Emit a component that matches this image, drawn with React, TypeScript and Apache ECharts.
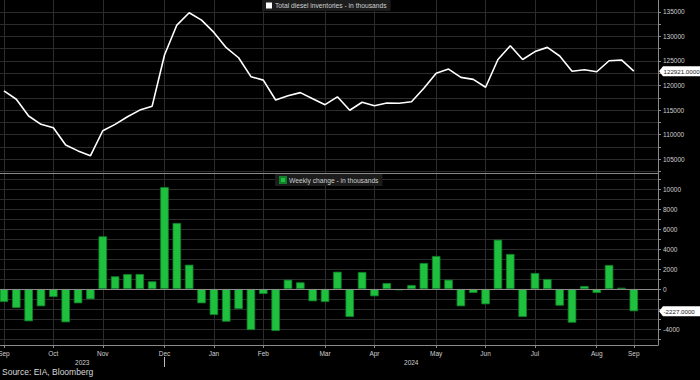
import React, { useEffect, useRef } from 'react';
import * as echarts from 'echarts';

const levelName = 'Total diesel inventories - in thousands';
const changeName = 'Weekly change - in thousands';
const sourceText = 'Source: EIA, Bloomberg';

// Weekly total diesel inventories (thousand barrels), Sep 2023 - Sep 2024
const levels = [
  118900, 117200, 113800, 112100, 111400, 107900, 106700, 105700, 110800, 112100,
  113650, 115000, 115800, 126200, 132300, 134800, 133300, 130800, 127700, 125650,
  121800, 121100, 117050, 117900, 118550, 117300, 116100, 117700, 114960, 116600,
  115900, 116450, 116400, 116700, 119430, 122480, 123350, 121650, 121250, 119640,
  125300, 128100, 125300, 126900, 127760, 126000, 122900, 123200, 122800, 125040,
  125200, 122921,
];

// Weekly change (thousand barrels)
const changes = [
  -1300, -1900, -3230, -1730, -800, -3330, -1430, -1030, 5270, 1270,
  1500, 1500, 770, 10200, 6600, 2430, -1430, -2600, -3270, -2000,
  -4100, -500, -4200, 930, 670, -1230, -1300, 1730, -2800, 1700,
  -730, 600, -130, 400, 2600, 3300, 930, -1730, -400, -1530,
  4930, 3500, -2800, 1600, 1000, -1670, -3370, 300, -400, 2400,
  130, -2227,
];

const monthTickIdx = [0, 4, 8, 13, 17, 21, 26, 30, 35, 39, 43, 48, 51];
const monthTickText = ['Sep', 'Oct', 'Nov', 'Dec', 'Jan', 'Feb', 'Mar', 'Apr', 'May', 'Jun', 'Jul', 'Aug', 'Sep'];
const yearText = ['2023', '2024'];
const yearBreakIdx = 13;

const levelLabelValues = [105000, 110000, 115000, 120000, 125000, 130000, 135000];
const levelTickValues = [102500, 105000, 107500, 110000, 112500, 115000, 117500, 120000, 122500, 125000, 127500, 130000, 132500, 135000];
const changeLabelValues = [-4000, 0, 2000, 4000, 6000, 8000, 10000];
const changeTickValues = [-5000, -4000, -3000, -2000, -1000, 0, 1000, 2000, 3000, 4000, 5000, 6000, 7000, 8000, 9000, 10000, 11000];

const FONT = '"Liberation Sans", Arial, sans-serif';
const X_MIN = -0.32;
const X_MAX = 52.96;

export default function App() {
  const ref = useRef<HTMLDivElement>(null);

  useEffect(() => {
    document.body.style.margin = '0';
    document.body.style.background = '#000';
    if (!ref.current) return;
    const chart = echarts.init(ref.current, undefined, { renderer: 'svg' });

    const gridLine = { show: true, lineStyle: { color: '#2c2c2c', width: 1 } };
    const axisLineStyle = { color: '#8a8a8a', width: 1 };
    const plainNum = (v: number) => String(v);

    const xCommon = {
      type: 'value' as const,
      min: X_MIN,
      max: X_MAX,
      splitLine: gridLine,
      axisTick: { show: true, customValues: monthTickIdx, length: 3, lineStyle: axisLineStyle },
    };

    const yCommon = {
      type: 'value' as const,
      position: 'right' as const,
      scale: true,
      axisLine: { show: true, onZero: false, lineStyle: axisLineStyle },
      splitLine: gridLine,
    };

    chart.setOption({
      animation: false,
      backgroundColor: '#000',
      textStyle: { fontFamily: FONT },
      title: {
        text: sourceText,
        left: 2,
        top: 367,
        padding: 0,
        textStyle: { color: '#d8d8d8', fontSize: 8.5, fontWeight: 'normal', fontFamily: FONT },
      },
      legend: [
        {
          data: [levelName],
          left: 262,
          top: 0,
          padding: [2, 4, 2, 4],
          backgroundColor: '#1c1c1c',
          icon: 'rect',
          itemWidth: 6,
          itemHeight: 6,
          textStyle: { color: '#cfcfcf', fontSize: 6.7, fontFamily: FONT, padding: [0, 0, 0, -2] },
        },
        {
          data: [changeName],
          left: 275,
          top: 174,
          padding: [2, 4, 2, 4],
          backgroundColor: '#1c1c1c',
          icon: 'rect',
          itemWidth: 6,
          itemHeight: 6,
          textStyle: { color: '#cfcfcf', fontSize: 6.7, fontFamily: FONT, padding: [0, 0, 0, -2] },
        },
      ],
      grid: [
        { left: 0, right: 42, top: 0, height: 173, outerBoundsMode: 'none', containLabel: false },
        { left: 0, right: 42, top: 173, bottom: 35, outerBoundsMode: 'none', containLabel: false },
      ],
      xAxis: [
        {
          ...xCommon,
          gridIndex: 0,
          axisLine: { show: true, onZero: false, lineStyle: axisLineStyle },
          axisTick: { show: false, customValues: monthTickIdx },
          axisLabel: { show: false },
        },
        {
          ...xCommon,
          gridIndex: 1,
          axisLine: { show: true, onZero: false, lineStyle: axisLineStyle },
          axisLabel: {
            show: true,
            customValues: monthTickIdx,
            color: '#cfcfcf',
            fontSize: 6.5,
            margin: 5,
            fontFamily: FONT,
            formatter: (v: number) => {
              const k = monthTickIdx.indexOf(Math.round(v));
              return k >= 0 ? monthTickText[k] : '';
            },
          },
        },
      ],
      yAxis: [
        {
          ...yCommon,
          gridIndex: 0,
          min: 102200,
          max: 137400,
          axisTick: { show: true, customValues: levelTickValues, length: 3, lineStyle: axisLineStyle },
          axisLabel: { customValues: levelLabelValues, color: '#cfcfcf', fontSize: 6.5, margin: 5, fontFamily: FONT, formatter: plainNum },
        },
        {
          ...yCommon,
          gridIndex: 1,
          min: -5600,
          max: 11600,
          axisTick: { show: true, customValues: changeTickValues, length: 3, lineStyle: axisLineStyle },
          axisLabel: { customValues: changeLabelValues, color: '#cfcfcf', fontSize: 6.5, margin: 5, fontFamily: FONT, formatter: plainNum },
        },
      ],
      series: [
        {
          name: levelName,
          type: 'line',
          xAxisIndex: 0,
          yAxisIndex: 0,
          data: levels.map((v, i) => [i, v]),
          showSymbol: false,
          color: '#ffffff',
          lineStyle: { color: '#ffffff', width: 1.6 },
          itemStyle: { color: '#ffffff' },
        },
        {
          name: changeName,
          type: 'bar',
          xAxisIndex: 1,
          yAxisIndex: 1,
          data: changes.map((v, i) => [i, v]),
          barWidth: 8.5,
          color: '#1ec03e',
          itemStyle: { color: '#1ec03e', borderColor: '#10802a', borderWidth: 0.8 },
          markLine: {
            silent: true,
            symbol: 'none',
            label: { show: false },
            lineStyle: { color: '#8a8a8a', width: 1, type: 'solid' },
            data: [{ yAxis: 0 }],
          },
        },
      ],
    });

    const axisX = chart.convertToPixel({ xAxisIndex: 1 }, X_MAX) as number;
    const startX = chart.convertToPixel({ xAxisIndex: 1 }, X_MIN) as number;
    const breakX = chart.convertToPixel({ xAxisIndex: 1 }, yearBreakIdx) as number;
    const yLevel = chart.convertToPixel({ yAxisIndex: 0 }, levels[levels.length - 1]) as number;
    const yChange = chart.convertToPixel({ yAxisIndex: 1 }, changes[changes.length - 1]) as number;

    const badge = (y: number, text: string) => [
      {
        type: 'polygon',
        z: 100,
        shape: {
          points: [
            [axisX + 1, y],
            [axisX + 5, y - 5],
            [700, y - 5],
            [700, y + 5],
            [axisX + 5, y + 5],
          ],
        },
        style: { fill: '#ffffff' },
      },
      {
        type: 'text',
        z: 101,
        x: axisX + 5.5,
        y: y,
        style: {
          text,
          fill: '#1a1a1a',
          font: `6.2px ${FONT}`,
          verticalAlign: 'middle',
          align: 'left',
        },
      },
    ];

    const yearY = 362;
    chart.setOption({
      graphic: [
        ...badge(yLevel, levels[levels.length - 1].toFixed(4)),
        ...badge(yChange, changes[changes.length - 1].toFixed(4)),
        {
          type: 'line',
          shape: { x1: breakX, y1: 357, x2: breakX, y2: 367 },
          style: { stroke: '#bdbdbd', lineWidth: 1 },
        },
        {
          type: 'text',
          x: (startX + breakX) / 2,
          y: yearY,
          style: { text: yearText[0], fill: '#cfcfcf', font: `6.5px ${FONT}`, align: 'center', verticalAlign: 'middle' },
        },
        {
          type: 'text',
          x: (breakX + axisX) / 2,
          y: yearY,
          style: { text: yearText[1], fill: '#cfcfcf', font: `6.5px ${FONT}`, align: 'center', verticalAlign: 'middle' },
        },
      ],
    });

    return () => chart.dispose();
  }, []);

  return <div ref={ref} style={{ width: 700, height: 380, background: '#000' }} />;
}
